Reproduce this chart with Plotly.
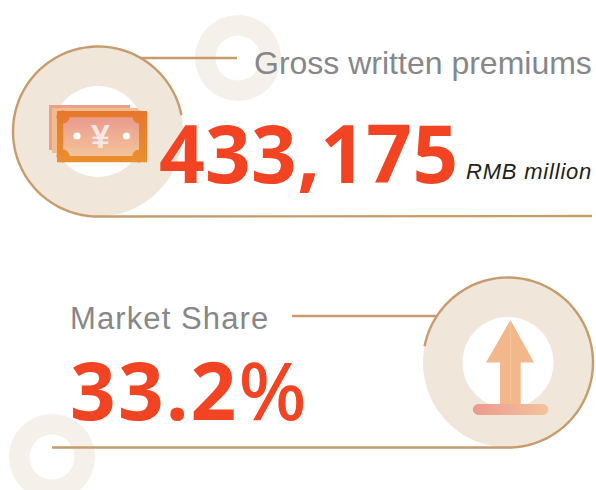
import numpy as np
import plotly.graph_objects as go

metric_labels = ["Gross written premiums", "Market Share"]
metric_values = ["433,175", "33.2%"]
metric_unit = "RMB million"
currency_symbol = "¥"

W, H = 596, 490
TAN = "#c69c6d"
RING = "#f0e6da"
PALE = "#f5f0e9"
shapes = []


def circle(cx, cy, r, color):
    shapes.append(dict(type="circle", x0=cx - r, x1=cx + r, y0=cy - r, y1=cy + r,
                       fillcolor=color, line=dict(width=0), layer="below"))


def rect(x0, y0, x1, y1, color):
    shapes.append(dict(type="rect", x0=x0, x1=x1, y0=y0, y1=y1,
                       fillcolor=color, line=dict(width=0), layer="below"))


def line(x0, y0, x1, y1, color=TAN, w=2.4):
    shapes.append(dict(type="line", x0=x0, x1=x1, y0=y0, y1=y1,
                       line=dict(color=color, width=w), layer="below"))


def poly(points, color=None, stroke=None, w=2.4, close=True):
    d = "M" + "L".join(f"{x:.2f},{y:.2f}" for x, y in points) + ("Z" if close else "")
    shapes.append(dict(type="path", path=d, fillcolor=color if color else "rgba(0,0,0,0)",
                       line=dict(color=stroke if stroke else "rgba(0,0,0,0)", width=w if stroke else 0),
                       layer="below"))


def arc(cx, cy, r, a0, a1):
    t = np.radians(np.linspace(a0, a1, 120))
    return list(zip(cx + r * np.cos(t), cy + r * np.sin(t)))


def mix(c0, c1, t):
    a = [int(c0[i:i + 2], 16) for i in (1, 3, 5)]
    b = [int(c1[i:i + 2], 16) for i in (1, 3, 5)]
    return "rgb(" + ",".join(str(round(p + (q - p) * t)) for p, q in zip(a, b)) + ")"


def vgrad(x0, y0, x1, y1, c0, c1):
    n = int(y1 - y0)
    for i in range(n):
        rect(x0, y0 + i, x1, y0 + i + 1.2, mix(c0, c1, i / max(n - 1, 1)))


# decorative pale rings
for cx, cy in [(238, 58), (52, 457)]:
    circle(cx, cy, 43, PALE)
    circle(cx, cy, 22.5, "#ffffff")

# large rings
for cx, cy in [(98, 131.5), (508, 362.5)]:
    circle(cx, cy, 85, RING)
    circle(cx, cy, 45.5, "#ffffff")

# outlines
poly(arc(98, 131.5, 85, -11, -270) + [(592, 216)], stroke=TAN, close=False)
line(140, 58, 237, 58)
poly(arc(508, 362.5, 85, 191, 450) + [(52, 447.5)], stroke=TAN, close=False)
line(292, 316, 437, 316)

# banknotes
F0, F1 = "#e6772c", "#eb8e2f"
rect(49, 105, 130, 150, "#ed9f8d")
rect(52, 108, 138, 153, "#f2bb90")
vgrad(63, 117, 139, 156, "#ea9b8d", "#f3c39a")
for cx, cy, t in [(63, 117, 0.12), (139, 117, 0.12), (63, 156, 0.88), (139, 156, 0.88)]:
    circle(cx, cy, 6.5, mix(F0, F1, t))
for y in range(111, 162):
    c = mix(F0, F1, (y - 111) / 50)
    if y < 117 or y >= 156:
        rect(57, y, 147, y + 1.2, c)
    else:
        rect(57, y, 63, y + 1.2, c)
        rect(139, y, 147, y + 1.2, c)
circle(77, 136, 3.6, "#ffffff")
circle(126.5, 136, 3.6, "#ffffff")

# arrow
poly([(510.5, 320), (534, 362.5), (520.7, 362.5), (520.7, 405), (500, 405), (500, 362.5), (486, 362.5)], color="#f2b88c")
line(510.5, 321, 510.5, 404, "#f4c6a0", 0.8)
for x in np.arange(473, 548, 1.0):
    d = min(x + 0.5 - 473, 548 - x - 0.5)
    h = 5.5 if d >= 5.5 else np.sqrt(max(5.5 ** 2 - (5.5 - d) ** 2, 0))
    shapes.append(dict(type="rect", x0=x, x1=x + 1.2, y0=409.5 - h, y1=409.5 + h,
                       fillcolor=mix("#ec9a90", "#f3c49c", (x - 473) / 75), line=dict(width=0), layer="below"))


def spaced(text, px):
    return f'<span style="letter-spacing:{px}px">{text}</span>'


grey = "#85878a"
red = "#f24422"
pct_value = f'<span style="letter-spacing:2.2px">{metric_values[1][:-1]}</span><span style="font-weight:500">{metric_values[1][-1]}</span>'
anns = [
    dict(x=254, y=63, text=metric_labels[0], xanchor="left", yanchor="middle",
         font=dict(family="Liberation Sans", size=32, color=grey)),
    dict(x=70, y=318, text=spaced(metric_labels[1], 1.1), xanchor="left", yanchor="middle",
         font=dict(family="Liberation Sans", size=31, color=grey)),
    dict(x=159, y=151, text=spaced(metric_values[0], 0.3), xanchor="left", yanchor="middle",
         font=dict(family="Noto Sans", size=80, color=red, weight=700)),
    dict(x=70, y=388, text=pct_value, xanchor="left", yanchor="middle",
         font=dict(family="Noto Sans", size=80, color=red, weight=700)),
    dict(x=592, y=171, text=spaced(f"<i>{metric_unit}</i>", 0.8), xanchor="right", yanchor="middle",
         font=dict(family="Liberation Sans", size=22, color="#231f20")),
    dict(x=100, y=136, text=currency_symbol, xanchor="center", yanchor="middle",
         font=dict(family="Liberation Sans", size=34, color="#f7e6e4", weight=700)),
]
for a in anns:
    a.update(xref="x", yref="y", showarrow=False, borderpad=0, borderwidth=0)

fig = go.Figure()
fig.update_layout(
    width=W, height=H, margin=dict(l=0, r=0, t=0, b=0), showlegend=False,
    paper_bgcolor="#ffffff", plot_bgcolor="#ffffff",
    xaxis=dict(range=[0, W], visible=False, fixedrange=True),
    yaxis=dict(range=[H, 0], visible=False, fixedrange=True),
    shapes=shapes, annotations=anns,
)
fig.write_html("out.html", config=dict(displayModeBar=False),
               post_script="document.body.style.margin='0';document.body.style.overflow='hidden';")
